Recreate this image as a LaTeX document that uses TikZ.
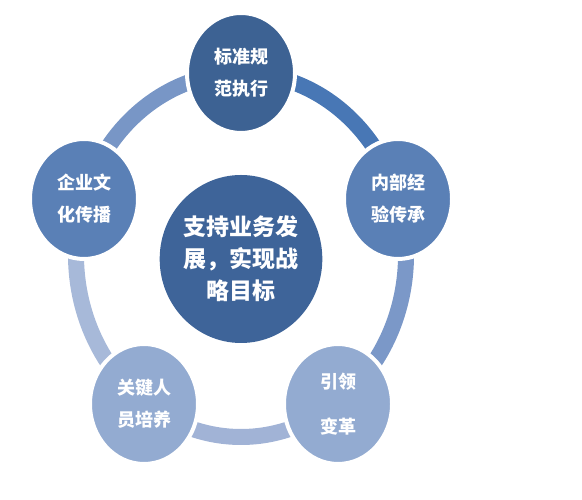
\documentclass[tikz,border=0pt]{standalone}
\usepackage{fontspec}
\newfontfamily\cjk{Noto Sans CJK SC}
\usetikzlibrary{shapes.geometric}
\definecolor{cTop}{HTML}{3D6293}
\definecolor{cMid}{HTML}{3E6499}
\definecolor{cSide}{HTML}{5A80B6}
\definecolor{cLow}{HTML}{93ABD1}
\definecolor{aTL}{HTML}{7896C6}
\definecolor{aTR}{HTML}{4877B5}
\definecolor{aR}{HTML}{7B98C8}
\definecolor{aB}{HTML}{A1B3D6}
\definecolor{aL}{HTML}{A7B9D9}
\tikzset{
  ringarc/.style={line width=16bp},
  bubble/.style={ellipse, draw=white, line width=4bp, minimum width=108bp, minimum height=120bp, inner sep=0pt, text=white, align=center, font=\cjk\bfseries\fontsize{18bp}{32bp}\selectfont},
  hub/.style={ellipse, minimum width=151bp, minimum height=168bp, inner sep=0pt, text=white, align=center, font=\cjk\bfseries\fontsize{23bp}{32bp}\selectfont}
}
\begin{document}
\begin{tikzpicture}[x=1bp,y=1bp]
\useasboundingbox (0,0) rectangle (582,500);
\coordinate (c) at (241,245);
% ring segments
\draw[ringarc, aTR] ([shift={(18:165 and 182)}]c) arc[start angle=18, end angle=90, x radius=165, y radius=182];
\draw[ringarc, aR] ([shift={(-54:165 and 182)}]c) arc[start angle=-54, end angle=18, x radius=165, y radius=182];
\draw[ringarc, aB] ([shift={(-126:165 and 182)}]c) arc[start angle=-126, end angle=-54, x radius=165, y radius=182];
\draw[ringarc, aL] ([shift={(162:165 and 182)}]c) arc[start angle=162, end angle=234, x radius=165, y radius=182];
\draw[ringarc, aTL] ([shift={(90:165 and 182)}]c) arc[start angle=90, end angle=162, x radius=165, y radius=182];
% nodes
\node[hub, fill=cMid] (hub) at (241,241) {支持业务发\\展，实现战\\略目标};
\node[bubble, fill=cTop] (top) at (241,427) {标准规\\范执行};
\node[bubble, fill=cSide] (right) at (398,301) {内部经\\验传承};
\node[bubble, fill=cSide] (left) at (84,301) {企业文\\化传播};
\node[bubble, fill=cLow] (br) at (338,96) {引领\\[13bp]变革};
\node[bubble, fill=cLow] (bl) at (144,96) {关键人\\员培养};
\end{tikzpicture}
\end{document}
